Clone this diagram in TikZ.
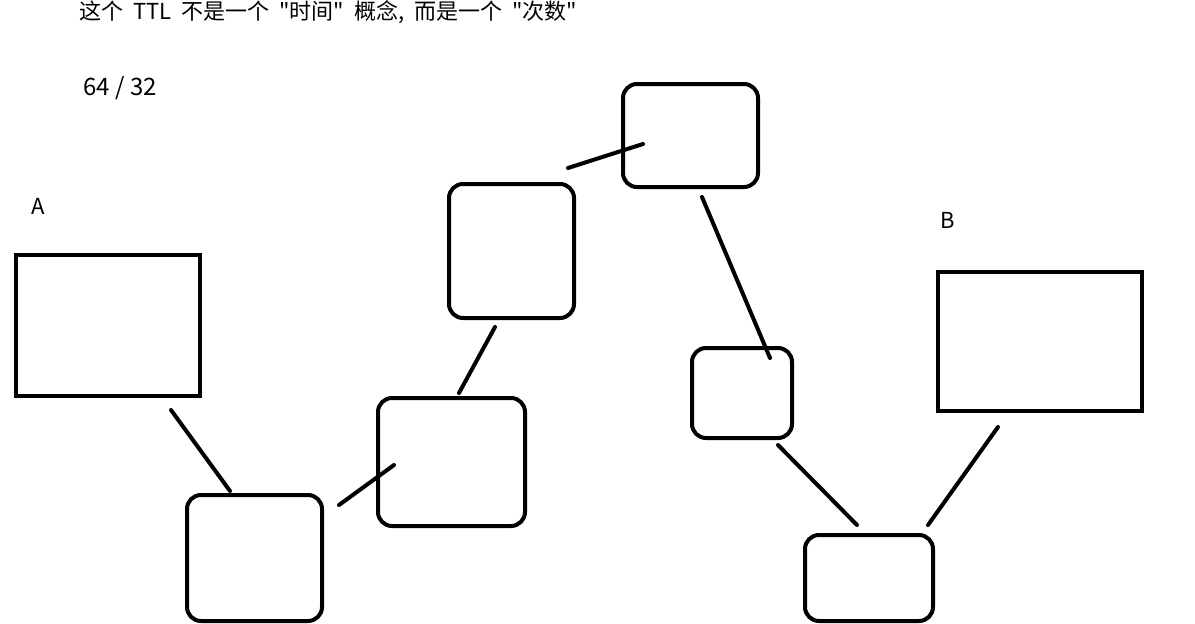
\documentclass[tikz,border=0pt]{standalone}
\usepackage{fontspec}
\newfontfamily\cjk{Noto Sans CJK SC}
\begin{document}
\begin{tikzpicture}[x=1pt,y=-1pt,
  sq/.style={draw,line width=4pt},
  rbox/.style={draw,line width=4pt,rounded corners=14pt},
  link/.style={line width=4pt,line cap=round},
  lbl/.style={inner sep=0pt,font=\cjk\fontsize{22}{26}\selectfont}]
\useasboundingbox (0,0) rectangle (1195,624);
% text
\node[lbl,anchor=base west] (title) at (79,19)
  {\spaceskip=10pt\relax 这个 TTL 不是一个 "时间" 概念, 而是一个 "次数"};
\node[lbl,anchor=west,font=\cjk\fontsize{24}{28}\selectfont] (ratio) at (83,88) {64 / 32};
\node[lbl] (la) at (38,206) {A};
\node[lbl] (lb) at (948,220) {B};
% boxes
\draw[sq] (16,255) rectangle (200,396);
\draw[sq] (938,272) rectangle (1142,411);
\draw[rbox] (187,495) rectangle (322,621);
\draw[rbox] (378,398) rectangle (525,526);
\draw[rbox] (449,184) rectangle (574,318);
\draw[rbox] (623,84) rectangle (758,187);
\draw[rbox] (692,348) rectangle (792,438);
\draw[rbox] (805,535) rectangle (933,621);
% connectors
\coordinate (a1) at (171,410); \coordinate (a2) at (230,491);
\coordinate (b1) at (339,505); \coordinate (b2) at (394,465);
\coordinate (c1) at (459,393); \coordinate (c2) at (495,327);
\coordinate (d1) at (568,168); \coordinate (d2) at (643,144);
\coordinate (e1) at (702,197); \coordinate (e2) at (770,358);
\coordinate (f1) at (778,445); \coordinate (f2) at (857,525);
\coordinate (g1) at (928,525); \coordinate (g2) at (998,427);
\draw[link] (a1) -- (a2);
\draw[link] (b1) -- (b2);
\draw[link] (c1) -- (c2);
\draw[link] (d1) -- (d2);
\draw[link] (e1) -- (e2);
\draw[link] (f1) -- (f2);
\draw[link] (g1) -- (g2);
\end{tikzpicture}
\end{document}
